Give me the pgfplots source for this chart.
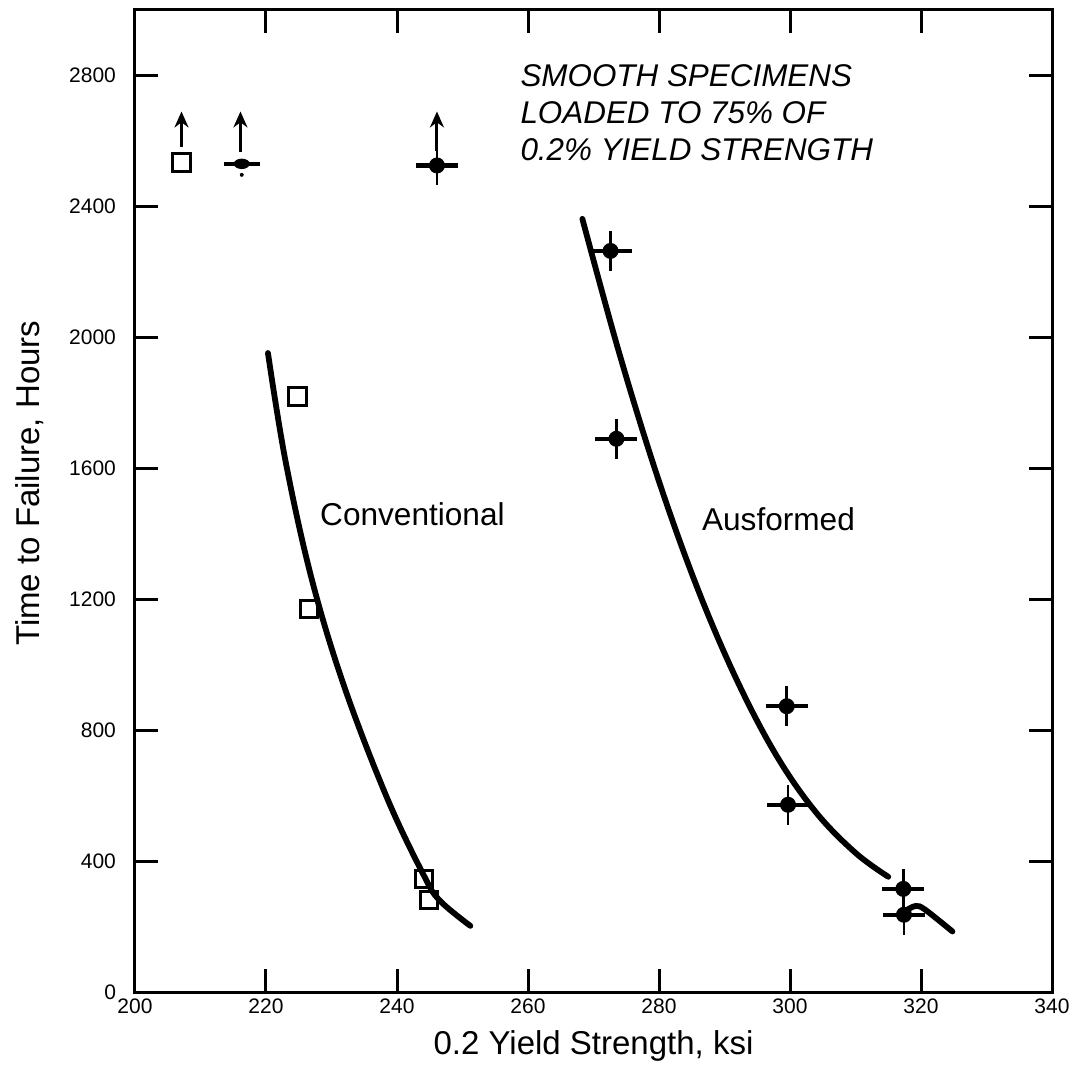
\documentclass[border=0pt]{standalone}
\usepackage{fontspec}
\setmainfont{Liberation Sans}
\usepackage{pgfplots}
\pgfplotsset{compat=1.18}
\usetikzlibrary{arrows.meta}

% ausformed symbol: dot with a bar across it
\pgfdeclareplotmark{ausf}{%
  \pgfpathcircle{\pgfpointorigin}{4pt}\pgfusepathqfill
  \pgfsetlinewidth{2.2pt}%
  \pgfpathmoveto{\pgfpoint{-10.5pt}{0pt}}\pgfpathlineto{\pgfpoint{10.5pt}{0pt}}%
  \pgfusepathqstroke
  \pgfsetlinewidth{1.3pt}%
  \pgfpathmoveto{\pgfpoint{0pt}{-10pt}}\pgfpathlineto{\pgfpoint{0pt}{10pt}}%
  \pgfusepathqstroke}
% the odd one at 216 ksi
\pgfdeclareplotmark{intm}{%
  \pgfsetlinewidth{2.2pt}%
  \pgfpathmoveto{\pgfpoint{-9pt}{0pt}}\pgfpathlineto{\pgfpoint{9pt}{0pt}}%
  \pgfusepathqstroke
  \pgfpathellipse{\pgfpointorigin}{\pgfpoint{4pt}{0pt}}{\pgfpoint{0pt}{2.6pt}}\pgfusepathqfill
  \pgfpathcircle{\pgfpoint{0pt}{-5.5pt}}{1pt}\pgfusepathqfill}

\pgfplotstableread{
x y
207.1 2534
224.8 1819
226.6 1169
244.1 346
244.9 280
}\convpts

\pgfplotstableread{
x y
246.1 2525
272.6 2264
273.5 1690
299.5 873
299.7 572
317.3 315
317.4 236
}\auspts

\begin{document}
\begin{tikzpicture}
\begin{axis}[
  scale only axis, width=458.5pt, height=491pt,
  xmin=200, xmax=340, ymin=0, ymax=3000,
  xtick={200,220,...,340}, ytick={0,400,...,2800},
  xtick pos=both, ytick pos=both,
  tick align=inside, major tick length=11.5pt,
  tick style={line width=1.5pt, black},
  axis line style={line width=1.5pt},
  /pgf/number format/assume math mode=true,
  /pgf/number format/1000 sep={},
  tick label style={font=\fontsize{10.5}{12}\selectfont},
  yticklabel style={xshift=-6pt},
  xlabel={0.2 Yield Strength, ksi},
  ylabel={Time to Failure, Hours},
  label style={font=\fontsize{16.5}{19}\selectfont},
  xlabel style={at={(axis description cs:0.5,-0.055)}, anchor=center},
  ylabel style={at={(axis description cs:-0.1145,0.518)}, anchor=center},
]
% curves
\addplot[black, line width=2.9pt, smooth, tension=0.6, line cap=round] coordinates {
 (220.3,1952)(223.0,1620)(227.0,1260)(232.0,930)(238.5,592)(244.1,356)
 (246.5,280)(251.2,202)};
\addplot[black, line width=2.9pt, smooth, tension=0.6, line cap=round] coordinates {
 (268.3,2362)(274,1947)(280,1560)(286,1227)(292,948)(298,720)
 (304,548)(310,425)(315,352)};
\addplot[black, line width=2.9pt, smooth, line cap=round] coordinates {
 (317.6,248)(319.2,263)(320.6,252)(324.8,185)};

% run-out arrows
\addplot[black, line width=1.5pt, -{Stealth[length=8pt,width=7pt]}] coordinates {(207.1,2581)(207.1,2690)};
\addplot[black, line width=1.5pt, -{Stealth[length=8pt,width=7pt]}] coordinates {(216.1,2566)(216.1,2690)};
\addplot[black, line width=1.5pt, -{Stealth[length=8pt,width=7pt]}] coordinates {(246.1,2570)(246.1,2690)};

% points
\addplot[only marks, mark=square, mark size=4.3pt, mark options={line width=1.5pt, fill=white, draw=black}] table {\convpts};
\addplot[only marks, mark=ausf, black] table {\auspts};
\addplot[only marks, mark=intm, black] coordinates {(216.3,2530)};

\node[anchor=west, font=\fontsize{15.8}{18}\selectfont] at (axis cs:227.2,1460) {Conventional};
\node[anchor=west, font=\fontsize{15.8}{18}\selectfont] at (axis cs:285.5,1445) {Ausformed};
\node[anchor=north west, align=left, inner sep=0pt,
      font=\fontsize{15.7}{18.5}\selectfont\itshape] at (axis cs:258.8,2835)
  {SMOOTH SPECIMENS\\LOADED TO 75\% OF\\0.2\% YIELD STRENGTH};
\end{axis}
\pgfresetboundingbox
\path[use as bounding box] ([xshift=-67.5pt,yshift=-45pt]current axis.south west)
  rectangle ([xshift=12pt,yshift=5pt]current axis.north east);
\end{tikzpicture}
\end{document}
